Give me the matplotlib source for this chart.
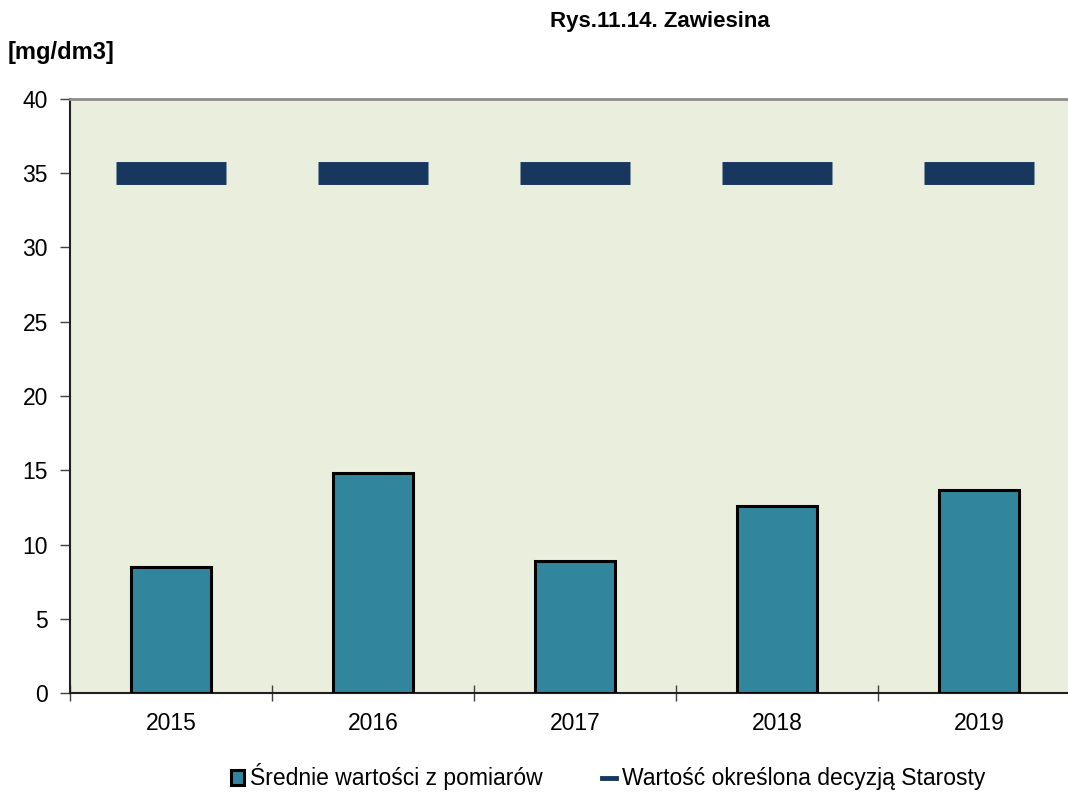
import matplotlib.pyplot as plt
import numpy as np

plt.rcParams['font.family'] = ['Liberation Sans', 'DejaVu Sans']

years = ['2015', '2016', '2017', '2018', '2019']
srednie = [8.5, 14.8, 8.9, 12.6, 13.7]
limit = [35, 35, 35, 35, 35]

W, H = 1068, 796
fig = plt.figure(figsize=(W / 100, H / 100), dpi=100)
# plot area runs slightly past the right edge, as in the original
ax = fig.add_axes([70 / W, 1 - 693 / H, 1010 / W, 594 / H])
ax.set_facecolor('#EAEEDD')

x = np.arange(len(years))
bars = ax.bar(x, srednie, width=0.4, color='#31859C', edgecolor='black',
              linewidth=2.2, zorder=3, label='Średnie wartości z pomiarów')
ax.hlines(limit, x - 0.272, x + 0.272, colors='#17375E', linewidth=16.5,
          zorder=3)
# proxy for legend
dash, = ax.plot([], [], color='#17375E', linewidth=3.5,
                label='Wartość określona decyzją Starosty')

ax.set_xlim(-0.5, len(years) - 0.5)
ax.set_ylim(0, 40)
ax.set_yticks(range(0, 41, 5))
ax.set_xticks(x)
ax.set_xticklabels(years)
ax.set_xticks(np.arange(-0.5, len(years), 1), minor=True)
ax.tick_params(axis='x', which='major', length=0, labelsize=16.5, pad=14)
ax.tick_params(axis='x', which='minor', direction='inout', length=12,
               width=1, color='#404040')
ax.tick_params(axis='y', direction='out', length=7, width=1, labelsize=16.5,
               pad=9, color='#404040')

ax.spines['top'].set_color('#8C8C8C')
ax.spines['top'].set_linewidth(2)
ax.spines['right'].set_visible(False)
ax.spines['left'].set_color('#202020')
ax.spines['left'].set_linewidth(1.5)
ax.spines['bottom'].set_color('#202020')
ax.spines['bottom'].set_linewidth(1.5)

fig.text(660 / W, 1 - 22 / H, 'Rys.11.14. Zawiesina', ha='center',
         va='center', fontsize=16, fontweight='bold')
fig.text(8 / W, 1 - 52 / H, '[mg/dm3]', ha='left', va='center',
         fontsize=17, fontweight='bold')

fig.legend([bars, dash], [bars.get_label(), dash.get_label()],
           loc='center', bbox_to_anchor=(608 / W, 1 - 777 / H), ncol=2,
           frameon=False, fontsize=16.5, handlelength=0.6, handleheight=0.6,
           handletextpad=0.25, columnspacing=2.6)

fig.savefig('out.png', dpi=100)
